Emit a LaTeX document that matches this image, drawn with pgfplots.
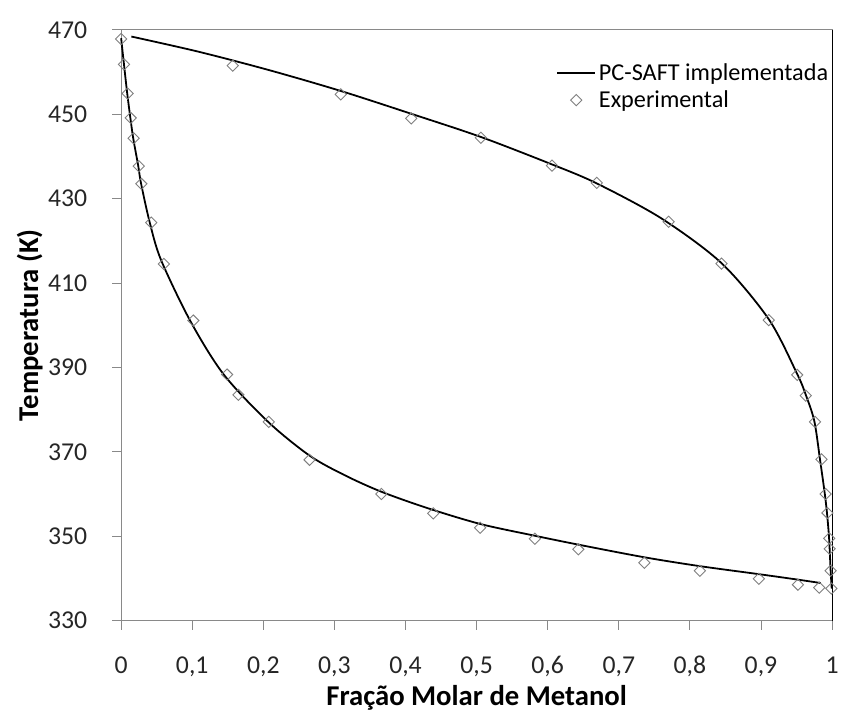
\documentclass[border=0pt]{standalone}
\usepackage{pgfplots}
\pgfplotsset{compat=1.18}
\usepackage{fontspec}
\setmainfont{Carlito}
\definecolor{axgray}{HTML}{898989}
\definecolor{mkgray}{HTML}{7F7F7F}
\pgfplotsset{
  linelegend/.style={legend image code/.code={\draw[##1, line width=1.8bp] (0bp,0bp) -- (38bp,0bp);}},
  marklegend/.style={legend image code/.code={\draw[mark repeat=2,mark phase=2,##1] plot coordinates {(0bp,0bp) (19bp,0bp) (38bp,0bp)};}},
}
\begin{document}
\begin{tikzpicture}
\useasboundingbox (-122bp,-98bp) rectangle (726bp,625bp);
\begin{axis}[
  at={(0,0)}, anchor=south west,
  scale only axis, width=716bp, height=595bp,
  xmin=0, xmax=1, ymin=330, ymax=470,
  xtick={0,0.1,...,1.0},
  xticklabels={0,{0,1},{0,2},{0,3},{0,4},{0,5},{0,6},{0,7},{0,8},{0,9},1},
  ytick={330,350,...,470},
  /pgf/number format/assume math mode=true,
  tick align=outside, major tick length=9bp,
  tick style={axgray, line width=0.9bp},
  axis line style={axgray, line width=1.1bp},
  xtick pos=bottom, ytick pos=left,
  ticklabel style={font=\fontsize{26}{30}\selectfont, text=black!85},
  yticklabel style={anchor=east, inner sep=0pt, xshift=-25bp},
  xticklabel style={anchor=base, inner sep=0pt, yshift=-44bp},
  xlabel={\textbf{Fração Molar de Metanol}},
  ylabel={\textbf{Temperatura (K)}},
  label style={font=\fontsize{29}{32}\selectfont},
  every axis x label/.append style={at={(axis description cs:0.5,0)}, anchor=center, yshift=-78bp},
  every axis y label/.append style={at={(axis description cs:0,0.5)}, anchor=center, yshift=92bp},
  legend style={draw=none, fill=none, at={(rel axis cs:0.612,0.948)}, anchor=north west,
    font=\fontsize{24.5}{28}\selectfont, row sep=3bp, inner sep=0pt,
    nodes={inner sep=3bp}},
  legend cell align=left,
  clip=false,
]
\addplot[black, line width=1.8bp, smooth, linelegend]
  coordinates {
  (0.000,468.0) (0.004,461.8) (0.0085,455.0) (0.013,449.1) (0.017,444.3)
  (0.024,437.8) (0.028,433.6) (0.040,424.5) (0.056,415.5) (0.0973,401.0)
  (0.1439,388.4) (0.2067,377.1) (0.265,369.1) (0.3138,364.5) (0.365,360.6)
  (0.430,356.7) (0.505,352.9) (0.582,350.1) (0.643,348.0) (0.736,345.0)
  (0.814,342.9) (0.897,341.0) (0.952,339.7) (0.984,338.9)};
\addlegendentry{PC-SAFT implementada}
\addplot[only marks, mark=square, mark size=4bp,
  mark options={rotate=45, draw=mkgray, line width=0.9bp, fill=white}, marklegend]
  coordinates {
  (0.000,467.8) (0.004,461.8) (0.009,454.9) (0.0135,449.1) (0.0177,444.3)
  (0.0247,437.7) (0.0284,433.5) (0.0423,424.3) (0.060,414.5) (0.1015,401.1)
  (0.149,388.3) (0.165,383.5) (0.2077,377.1) (0.265,368.1) (0.366,360.0)
  (0.439,355.4) (0.505,352.0) (0.582,349.4) (0.643,346.9) (0.736,343.7)
  (0.814,341.8) (0.897,339.9) (0.952,338.5) (0.982,337.8) (0.999,337.6)
  (0.157,461.5) (0.309,454.7) (0.408,449.0) (0.506,444.4) (0.606,437.8)
  (0.669,433.7) (0.770,424.5) (0.8445,414.6) (0.911,401.2) (0.951,388.2)
  (0.963,383.3) (0.976,377.1) (0.985,368.2) (0.991,360.0) (0.9935,355.5)
  (0.996,349.5) (0.9966,347.0) (0.998,341.8)};
\addlegendentry{Experimental}
\addplot[black, line width=1.8bp, smooth, forget plot]
  coordinates {
  (0.0144,468.4) (0.109,464.8) (0.209,460.4) (0.309,455.5) (0.408,450.1)
  (0.506,444.6) (0.606,438.1) (0.669,433.6) (0.760,425.3) (0.8445,414.7)
  (0.911,401.4) (0.951,388.4) (0.963,383.5) (0.975,377.3) (0.983,368.2)
  (0.9898,360.0) (0.993,355.2) (0.9958,349.5) (0.998,341.8) (0.9995,337.6)};
\draw[axgray, line width=1.1bp] (rel axis cs:0,1) -- (rel axis cs:1,1);
\draw[black, line width=1.1bp] (rel axis cs:1,0) -- (rel axis cs:1,1);
\end{axis}
\end{tikzpicture}
\end{document}
